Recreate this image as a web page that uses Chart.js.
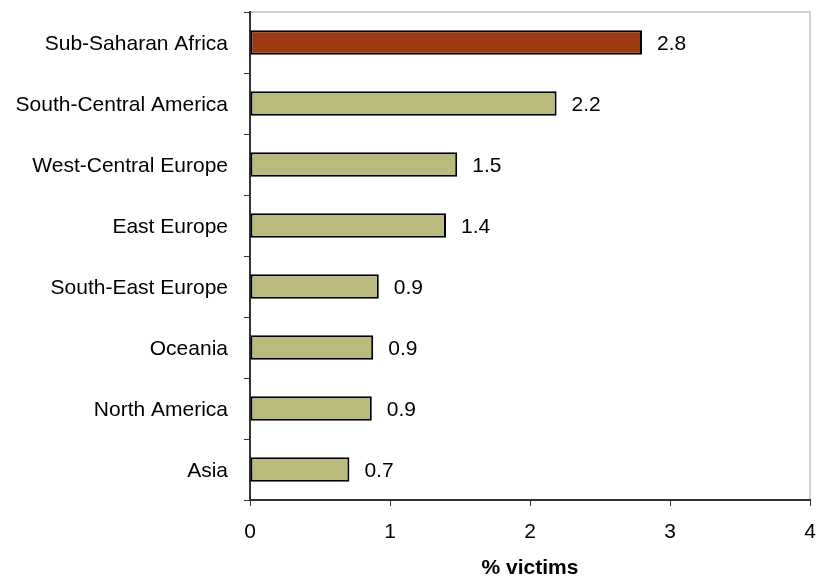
<!DOCTYPE html>
<html>
<head>
<meta charset="utf-8">
<script src="https://cdn.jsdelivr.net/npm/chart.js@4/dist/chart.umd.min.js"></script>
<style>
  html, body { margin: 0; padding: 0; background: #fff; }
  #wrap { width: 816px; height: 579px; position: relative; }
</style>
</head>
<body>
<div id="wrap"><canvas id="myChart"></canvas></div>
<script>
// data
var regions = ['Sub-Saharan Africa', 'South-Central America', 'West-Central Europe', 'East Europe',
               'South-East Europe', 'Oceania', 'North America', 'Asia'];
var victims = [2.8, 2.19, 1.48, 1.4, 0.92, 0.88, 0.87, 0.71];
var victimLabels = ['2.8', '2.2', '1.5', '1.4', '0.9', '0.9', '0.9', '0.7'];
var xTicks = [0, 1, 2, 3, 4];

var barColors = regions.map(function (r, i) { return i === 0 ? '#9b3a0e' : '#b9ba7b'; });
var fontFamily = '"Liberation Sans", Arial, sans-serif';

// light frame on top and right of the plot, value labels next to bars
var framePlugin = {
    id: 'frame',
    beforeDraw: function (chart) {
        var a = chart.chartArea, ctx = chart.ctx;
        ctx.save();
        ctx.strokeStyle = '#d4d0c8';
        ctx.lineWidth = 2;
        ctx.beginPath();
        ctx.moveTo(a.left, a.top);
        ctx.lineTo(a.right, a.top);
        ctx.lineTo(a.right, a.bottom);
        ctx.stroke();
        ctx.restore();
    },
    afterDatasetsDraw: function (chart) {
        var ctx = chart.ctx;
        var meta = chart.getDatasetMeta(0);
        ctx.save();
        ctx.font = '21px ' + fontFamily;
        ctx.fillStyle = '#000';
        ctx.textBaseline = 'middle';
        ctx.textAlign = 'left';
        meta.data.forEach(function (bar, i) {
            ctx.fillText(victimLabels[i], bar.x + 15, bar.y + 2);
        });
        ctx.restore();
    }
};

var ctx = document.getElementById('myChart').getContext('2d');
var myChart = new Chart(ctx, {
    type: 'bar',
    data: {
        labels: regions,
        datasets: [{
            data: victims,
            backgroundColor: barColors,
            borderColor: '#000',
            borderWidth: 2,
            borderSkipped: false,
            barPercentage: 0.4,
            categoryPercentage: 1
        }]
    },
    options: {
        indexAxis: 'y',
        responsive: true,
        maintainAspectRatio: false,
        animation: false,
        layout: { padding: { top: 12, right: 6, left: 0, bottom: 0 } },
        plugins: {
            legend: { display: false },
            tooltip: { enabled: false }
        },
        scales: {
            x: {
                min: 0,
                max: 4,
                afterBuildTicks: function (axis) {
                    axis.ticks = xTicks.map(function (v) { return { value: v }; });
                },
                ticks: {
                    color: '#000',
                    padding: 14,
                    font: { family: fontFamily, size: 21 }
                },
                grid: { drawOnChartArea: false, drawTicks: true, tickLength: 6, color: '#333', lineWidth: 1 },
                border: { display: true, color: '#333', width: 2 },
                title: {
                    display: true,
                    text: '% victims',
                    color: '#000',
                    padding: { top: 0, bottom: -2 },
                    font: { family: fontFamily, size: 21, weight: 'bold' }
                },
                afterFit: function (axis) {
                    axis.height = 79;
                    axis.paddingLeft = 0;
                    axis.paddingRight = 0;
                }
            },
            y: {
                ticks: {
                    color: '#000',
                    padding: 16,
                    autoSkip: false,
                    labelOffset: 2,
                    font: { family: fontFamily, size: 21 }
                },
                grid: { drawOnChartArea: false, drawTicks: true, tickLength: 6, color: '#333', lineWidth: 1 },
                border: { display: true, color: '#333', width: 2 },
                afterFit: function (axis) {
                    axis.width = 250;
                    axis.paddingTop = 0;
                    axis.paddingBottom = 0;
                }
            }
        }
    },
    plugins: [framePlugin]
});
</script>
</body>
</html>
